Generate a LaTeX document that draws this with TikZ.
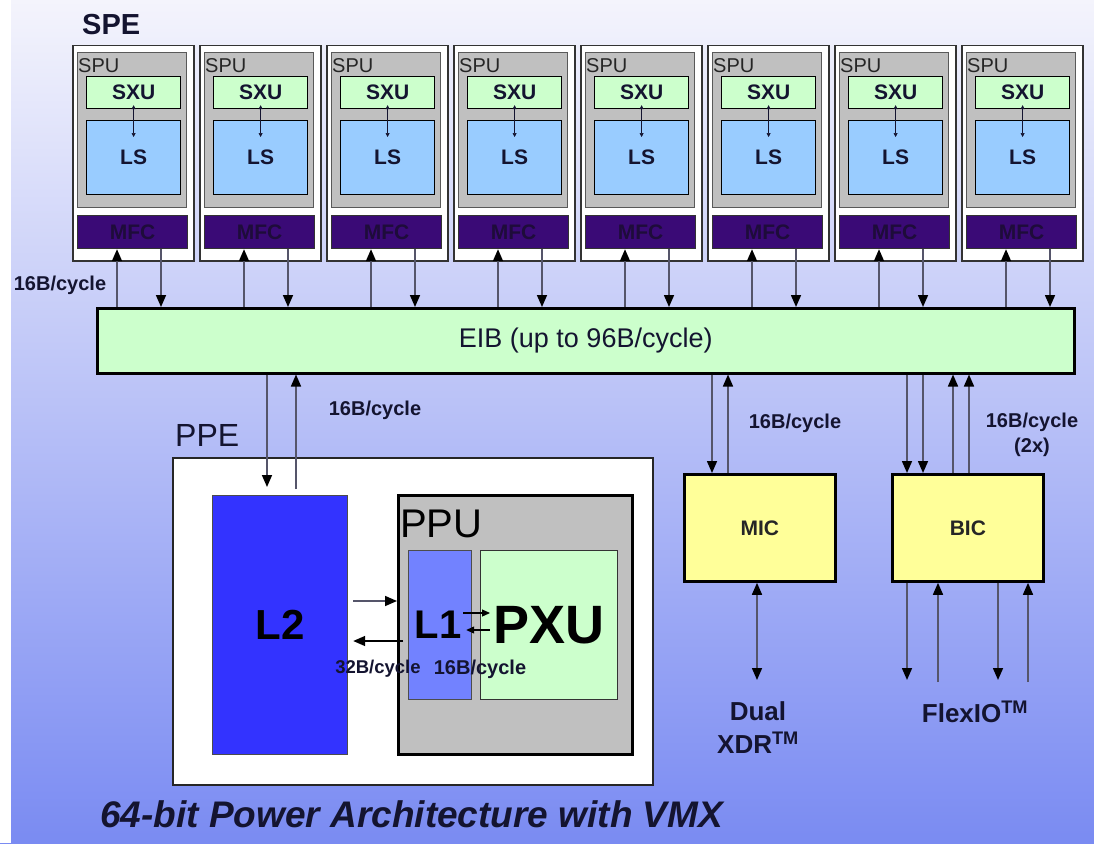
\documentclass[tikz,border=0pt]{standalone}
\usepackage{fontspec}
\setmainfont{Liberation Sans}
\usetikzlibrary{arrows.meta,positioning,calc}
\definecolor{cbGreen}{HTML}{CCFFCC}
\definecolor{cbSky}{HTML}{99CCFF}
\definecolor{cbGray}{HTML}{C0C0C0}
\definecolor{cbPurple}{HTML}{3A0A76}
\definecolor{cbPurpleTxt}{HTML}{1E0C3A}
\definecolor{cbYellow}{HTML}{FFFF99}
\definecolor{cbBlue}{HTML}{3333FF}
\definecolor{cbPale}{HTML}{7282FF}
\definecolor{cbInk}{HTML}{141430}
\definecolor{cbLine}{HTML}{55556A}
\definecolor{cbTop}{HTML}{F4F4FC}
\definecolor{cbMid}{HTML}{CACFF7}
\definecolor{cbBot}{HTML}{7A8BF2}
\tikzset{
  blk/.style={draw=black, line width=1.2pt, inner sep=0pt, anchor=north west, align=center, text=cbInk},
  spebox/.style={blk, fill=white, draw=black!80, line width=1.5pt, minimum width=121pt, minimum height=215pt},
  spubox/.style={blk, fill=cbGray, draw=black!65, minimum width=109pt, minimum height=155pt},
  sxubox/.style={blk, fill=cbGreen, minimum width=94pt, minimum height=32pt, font=\bfseries\fontsize{21}{24}\selectfont},
  lsbox/.style={blk, fill=cbSky, minimum width=94pt, minimum height=74pt, font=\bfseries\fontsize{21}{24}\selectfont},
  mfcbox/.style={blk, fill=cbPurple, draw=black!80, minimum width=110pt, minimum height=33pt, text=cbPurpleTxt, font=\bfseries\fontsize{21}{24}\selectfont},
  busbox/.style={blk, fill=cbGreen, line width=2.5pt, font=\fontsize{27}{30}\selectfont},
  ctlbox/.style={blk, fill=cbYellow, line width=2.8pt, minimum width=151pt, minimum height=107pt, text=black!85, font=\bfseries\fontsize{21}{24}\selectfont},
  lbl/.style={inner sep=0pt, text=cbInk, font=\bfseries\fontsize{20}{24}\selectfont},
  arr/.style={-{Triangle[length=12pt,width=10pt,color=black]}, line width=1.6pt, draw=cbLine},
  arrb/.style={{Triangle[length=12pt,width=10pt,color=black]}-{Triangle[length=12pt,width=10pt,color=black]}, line width=1.6pt, draw=cbLine},
  tinyarr/.style={{Triangle[length=4pt,width=4pt]}-{Triangle[length=4pt,width=4pt]}, line width=0.6pt, draw=cbInk},
  sarr/.style={-{Triangle[length=8pt,width=7pt]}, line width=1.2pt, draw=black},
}
\begin{document}
\begin{tikzpicture}[x=1pt, y=-1pt]
  \useasboundingbox (0,0) rectangle (1094,843);
  \shade[top color=cbTop, middle color=cbMid, bottom color=cbBot] (0,0) rectangle (1094,843);
  \fill[white] (0,0) rectangle (11,843);

  % SPE row
  \node[lbl, anchor=base west, font=\bfseries\fontsize{29}{32}\selectfont] (spe) at (82,35) {SPE};
  \node[busbox, minimum width=977pt, minimum height=65pt] (eib) at (96,307) {EIB (up to 96B/cycle)};
  \foreach \i in {0,...,7} {
    \pgfmathsetmacro{\sx}{72+127*\i}
    \node[spebox] (spe\i) at (\sx,45) {};
    \node[spubox] (spu\i) at (\sx+5,52) {};
    \node[lbl, anchor=base west, font=\fontsize{20}{24}\selectfont, text=black!85] (spulbl\i) at (\sx+6,73) {SPU};
    \node[sxubox] (sxu\i) at (\sx+14,76) {SXU};
    \node[lsbox] (ls\i) at (\sx+14,120) {LS};
    \node[mfcbox] (mfc\i) at (\sx+5,215) {MFC};
    \draw[tinyarr] ([yshift=4pt]sxu\i.south) -- ([yshift=-17pt]ls\i.north);
    \coordinate (up\i) at (\sx+45,0);
    \coordinate (dn\i) at (\sx+89,0);
    \draw[arr] (eib.north -| up\i) -- (mfc\i.south -| up\i);
    \draw[arr] (mfc\i.south -| dn\i) -- (eib.north -| dn\i);
  }
  \node[lbl] (bwspe) at (60,285) {16B/cycle};

  % PPE
  \node[lbl, anchor=base west, font=\fontsize{32}{36}\selectfont] (ppelbl) at (175,446) {PPE};
  \node[blk, fill=white, draw=black!85, line width=1.5pt, minimum width=480pt, minimum height=327pt] (ppe) at (172,457) {};
  \node[blk, fill=cbBlue, draw=black!70, minimum width=135pt, minimum height=259pt, text=black, font=\bfseries\fontsize{42}{46}\selectfont] (l2) at (212,495) {L2};
  \node[blk, fill=cbGray, line width=3pt, minimum width=234pt, minimum height=259pt] (ppu) at (397,494) {};
  \node[lbl, anchor=base west, text=black, font=\fontsize{40}{44}\selectfont] (ppulbl) at (400,537) {PPU};
  \node[blk, fill=cbPale, draw=black!70, minimum width=63pt, minimum height=149pt, text=black, font=\bfseries\fontsize{40}{44}\selectfont] (l1) at (408,550) {L1\hspace{4pt}};
  \node[blk, fill=cbGreen, draw=black!80, minimum width=137pt, minimum height=149pt, text=black, font=\bfseries\fontsize{54}{58}\selectfont] (pxu) at (480,550) {PXU};
  \coordinate (ppdn) at (267,0);
  \coordinate (ppup) at (296,0);
  \draw[arr, shorten >=8pt] (eib.south -| ppdn) -- (l2.north -| ppdn);
  \draw[arr, shorten <=6pt] (l2.north -| ppup) -- (eib.south -| ppup);
  \node[lbl] (bwppe) at (375,410) {16B/cycle};
  \coordinate (rto) at (0,601);
  \coordinate (rfrom) at (0,641);
  \draw[arr, shorten <=5pt] (l2.east |- rto) -- (ppu.west |- rto);
  \draw[arr, draw=black, shorten <=5pt, shorten >=5pt] (l1.west |- rfrom) -- (l2.east |- rfrom);
  \coordinate (xto) at (0,613);
  \coordinate (xfrom) at (0,630);
  \draw[sarr, shorten <=-9pt, shorten >=-10pt] (l1.east |- xto) -- (pxu.west |- xto);
  \draw[sarr, shorten <=-10pt, shorten >=-6pt] (pxu.west |- xfrom) -- (l1.east |- xfrom);
  \node[lbl, font=\bfseries\fontsize{18.5}{22}\selectfont] (bwl2) at (378,669) {32B/cycle};
  \node[lbl] (bwl1) at (480,669) {16B/cycle};

  % MIC and BIC
  \node[ctlbox] (mic) at (683,473) {MIC};
  \node[ctlbox] (bic) at (891,473) {BIC};
  \coordinate (mdn) at (712,0);
  \coordinate (mup) at (728,0);
  \draw[arr] (eib.south -| mdn) -- (mic.north -| mdn);
  \draw[arr] (mic.north -| mup) -- (eib.south -| mup);
  \node[lbl] (bwmic) at (795,423) {16B/cycle};
  \coordinate (bdna) at (907,0);
  \coordinate (bdnb) at (923,0);
  \coordinate (bupa) at (953,0);
  \coordinate (bupb) at (969,0);
  \draw[arr] (eib.south -| bdna) -- (bic.north -| bdna);
  \draw[arr] (eib.south -| bdnb) -- (bic.north -| bdnb);
  \draw[arr] (bic.north -| bupa) -- (eib.south -| bupa);
  \draw[arr] (bic.north -| bupb) -- (eib.south -| bupb);
  \node[lbl, align=center, font=\bfseries\fontsize{20}{25}\selectfont] (bwbic) at (1032,435) {16B/cycle\\(2x)};

  % off-chip links
  \coordinate (xdr) at (757,680);
  \coordinate (fdna) at (907,680);
  \coordinate (fupa) at (938,682);
  \coordinate (fdnb) at (998,680);
  \coordinate (fupb) at (1028,682);
  \draw[arrb] (mic.south -| xdr) -- (xdr);
  \draw[arr] (bic.south -| fdna) -- (fdna);
  \draw[arr] (fupa) -- (bic.south -| fupa);
  \draw[arr] (bic.south -| fdnb) -- (fdnb);
  \draw[arr] (fupb) -- (bic.south -| fupb);
  \node[lbl, align=center, font=\bfseries\fontsize{26}{33}\selectfont] (dualxdr) at (758,728) {Dual\\XDR\textsuperscript{TM}};
  \node[lbl, font=\bfseries\fontsize{26}{30}\selectfont] (flexio) at (975,712) {FlexIO\textsuperscript{TM}};

  \node[lbl, anchor=base west, font=\bfseries\itshape\fontsize{37}{40}\selectfont] (title) at (100,827) {64-bit Power Architecture with VMX};
\end{tikzpicture}
\end{document}
